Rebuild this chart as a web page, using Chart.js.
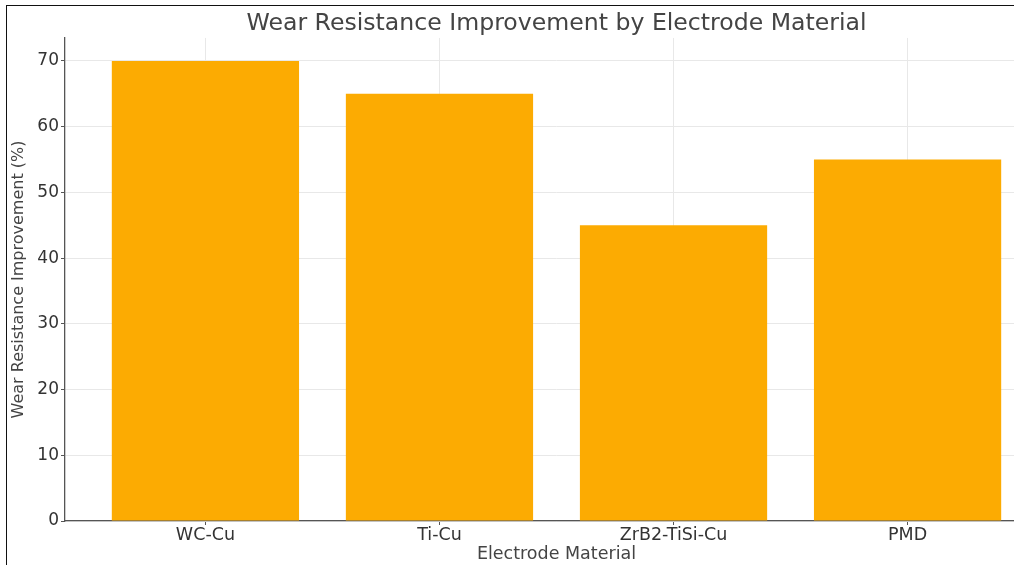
<!DOCTYPE html>
<html>
<head>
<meta charset="utf-8">
<script src="https://cdn.jsdelivr.net/npm/chart.js@4"></script>
<style>
    html, body {
        margin: 0;
        padding: 0;
        width: 1014px;
        height: 565px;
        overflow: hidden;
        background: #ffffff;
    }
    .chart-wrap {
        position: absolute;
        left: 0;
        top: 0;
        width: 1060px;
        height: 565px;
    }
    .frame {
        position: absolute;
        left: 6px;
        top: 5px;
        width: 1200px;
        height: 600px;
        border: none;
        border-top: 1.5px solid #111;
        border-left: 1.5px solid #111;
        pointer-events: none;
    }
</style>
</head>
<body>
<div class="chart-wrap"><canvas id="myChart"></canvas></div>
<div class="frame"></div>
<script>
"use strict";

// ========== DATA ========== //
const materials = ['WC-Cu', 'Ti-Cu', 'ZrB2-TiSi-Cu', 'PMD'];
const improvement = [70, 65, 45, 55];
const yTicks = [0, 10, 20, 30, 40, 50, 60, 70];

const barColor = '#fcab02';
const fontFamily = "'DejaVu Sans', sans-serif";

// bars sit on a linear x axis so the range can run -0.6 .. 3.6 like the original
function prepareBarData() {
    let points = [];
    materials.forEach((name, i) => {
        points.push({ x: i, y: improvement[i] });
    });
    return points;
}

// ========== CHART ========== //
let chartContainer = document.querySelector('#myChart');
let chart = new Chart(chartContainer, {
    type: 'bar',
    data: {
        datasets: [{
            data: prepareBarData(),
            backgroundColor: barColor,
            borderWidth: 0,
            barPercentage: 0.8,
            categoryPercentage: 1.0
        }]
    },
    options: {
        responsive: true,
        maintainAspectRatio: false,
        animation: false,
        layout: {
            padding: { left: 0, right: 12, top: 0, bottom: 0 }
        },
        plugins: {
            legend: { display: false },
            tooltip: { enabled: false },
            title: {
                display: true,
                text: 'Wear Resistance Improvement by Electrode Material',
                fullSize: false,
                color: '#444444',
                font: { family: fontFamily, size: 23.6, weight: 'normal', lineHeight: 1.1 },
                padding: { top: 11, bottom: 1 }
            }
        },
        scales: {
            x: {
                type: 'linear',
                min: -0.6,
                max: 3.6,
                offset: false,
                afterBuildTicks: scale => {
                    scale.ticks = materials.map((m, i) => ({ value: i }));
                },
                afterFit: scale => {
                    scale.height = 44;
                },
                ticks: {
                    autoSkip: false,
                    maxRotation: 0,
                    padding: 0,
                    color: '#333333',
                    font: { family: fontFamily, size: 17.5 },
                    callback: value => materials[value]
                },
                grid: {
                    offset: false,
                    color: '#e8e8e8',
                    lineWidth: 1,
                    tickLength: 4,
                    tickColor: '#555555'
                },
                border: { display: true, color: '#555555', width: 1.3 },
                title: {
                    display: true,
                    text: 'Electrode Material',
                    color: '#444444',
                    font: { family: fontFamily, size: 17.5 },
                    padding: { top: 0, bottom: 0 }
                }
            },
            y: {
                type: 'linear',
                min: 0,
                max: 73.5,
                afterBuildTicks: scale => {
                    scale.ticks = yTicks.map(v => ({ value: v }));
                },
                afterFit: scale => {
                    scale.width = 65;
                },
                ticks: {
                    padding: 2,
                    color: '#333333',
                    font: { family: fontFamily, size: 17 }
                },
                grid: {
                    color: '#e8e8e8',
                    lineWidth: 1,
                    tickLength: 4,
                    tickColor: '#555555'
                },
                border: { display: true, color: '#555555', width: 1.3 },
                title: {
                    display: true,
                    text: 'Wear Resistance Improvement (%)',
                    color: '#444444',
                    font: { family: fontFamily, size: 16 },
                    padding: { top: 9, bottom: 0 }
                }
            }
        }
    }
});
</script>
</body>
</html>
